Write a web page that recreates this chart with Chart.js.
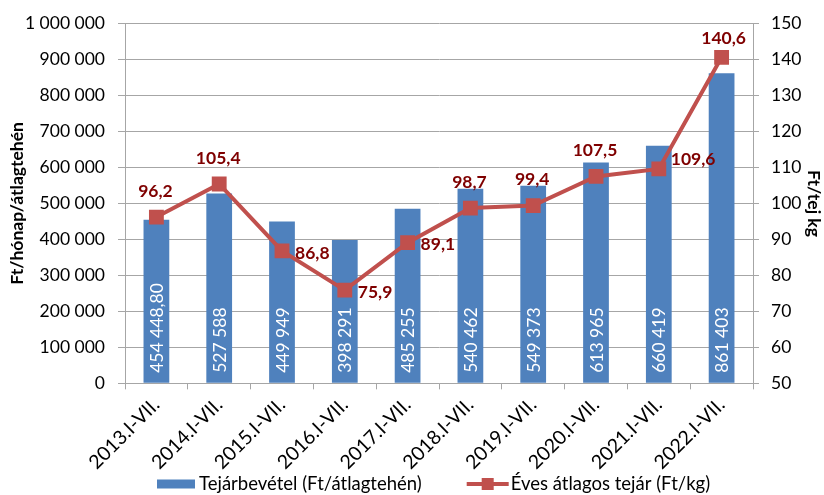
<!DOCTYPE html>
<html>
<head>
<meta charset="utf-8">
<script src="https://cdn.jsdelivr.net/npm/chart.js@4/dist/chart.umd.min.js"></script>
<style>
  html, body { margin: 0; padding: 0; background: #fff; }
  #wrap { width: 824px; height: 495px; }
</style>
</head>
<body>
<div id="wrap"><canvas id="c" width="824" height="495"></canvas></div>
<script>
const categories = ['2013.I-VII.', '2014.I-VII.', '2015.I-VII.', '2016.I-VII.', '2017.I-VII.',
                    '2018.I-VII.', '2019.I-VII.', '2020.I-VII.', '2021.I-VII.', '2022.I-VII.'];
const revenue = [454448.80, 527588, 449949, 398291, 485255, 540462, 549373, 613965, 660419, 861403];
const milkPrice = [96.2, 105.4, 86.8, 75.9, 89.1, 98.7, 99.4, 107.5, 109.6, 140.6];
const seriesNames = ['Tejárbevétel (Ft/átlagtehén)', 'Éves átlagos tejár (Ft/kg)'];
const axisTitles = ['Ft/hónap/átlagtehén', 'Ft/tej kg'];

const FONT = 'Lato';
const FS = 17.5;
const FS_X = 19.5;
const FS_LEG = 18.5;
const BLUE = '#4F81BD';
const RED = '#C0504D';
const DARKRED = '#7F0000';
const GRID = '#A6A6A6';

function groupSpaces(intStr) {
  return intStr.replace(/\B(?=(\d{3})+(?!\d))/g, ' ');
}
function fmtRevenue(v) {
  if (Number.isInteger(v)) return groupSpaces(String(v));
  const [a, b] = v.toFixed(2).split('.');
  return groupSpaces(a) + ',' + b;
}
function fmtPrice(v) { return v.toFixed(1).replace('.', ','); }

const labelPos = ['top', 'top', 'right', 'right', 'right', 'top', 'top', 'top', 'rightTop', 'topNear'];

const valueLabels = {
  id: 'valueLabels',
  afterDatasetsDraw(chart) {
    const ctx = chart.ctx;
    ctx.save();
    const barMeta = chart.getDatasetMeta(0);
    ctx.font = FS + 'px ' + FONT;
    ctx.fillStyle = '#FFFFFF';
    barMeta.data.forEach((el, i) => {
      ctx.save();
      ctx.translate(el.x, el.base - 10);
      ctx.rotate(-Math.PI / 2);
      ctx.textAlign = 'left';
      ctx.textBaseline = 'middle';
      ctx.fillText(fmtRevenue(revenue[i]), 0, 1);
      ctx.restore();
    });
    const lineMeta = chart.getDatasetMeta(1);
    ctx.font = 'bold ' + FS + 'px ' + FONT;
    ctx.fillStyle = DARKRED;
    lineMeta.data.forEach((el, i) => {
      const t = fmtPrice(milkPrice[i]);
      const p = labelPos[i];
      ctx.textBaseline = 'middle';
      if (p === 'top') { ctx.textAlign = 'center'; ctx.fillText(t, el.x - 1, el.y - 26); }
      else if (p === 'topNear') { ctx.textAlign = 'center'; ctx.fillText(t, el.x + 2, el.y - 19); }
      else if (p === 'right') { ctx.textAlign = 'left'; ctx.fillText(t, el.x + 13, el.y + 2); }
      else if (p === 'rightTop') { ctx.textAlign = 'left'; ctx.fillText(t, el.x + 12, el.y - 10); }
    });
    ctx.restore();
  }
};

const customLegend = {
  id: 'customLegend',
  afterDraw(chart) {
    const ctx = chart.ctx;
    ctx.save();
    ctx.font = FS_LEG + 'px ' + FONT;
    ctx.textBaseline = 'middle';
    ctx.textAlign = 'left';
    const y = 484;
    const w1 = ctx.measureText(seriesNames[0]).width;
    let x = chart.chartArea.left + 32;
    ctx.fillStyle = BLUE;
    ctx.fillRect(x, y - 4.5, 38, 9);
    x += 42;
    ctx.fillStyle = '#000';
    ctx.fillText(seriesNames[0], x, y);
    x += w1 + 45;
    ctx.strokeStyle = RED; ctx.lineWidth = 4;
    ctx.beginPath(); ctx.moveTo(x, y); ctx.lineTo(x + 42, y); ctx.stroke();
    ctx.fillStyle = RED; ctx.fillRect(x + 15, y - 6, 12, 12);
    x += 44;
    ctx.fillStyle = '#000';
    ctx.fillText(seriesNames[1], x, y);
    ctx.restore();
  }
};

new Chart(document.getElementById('c'), {
  data: {
    labels: categories,
    datasets: [
      {
        type: 'bar', label: seriesNames[0], data: revenue, yAxisID: 'y',
        backgroundColor: BLUE, borderWidth: 0,
        barPercentage: 0.41, categoryPercentage: 1.0, order: 2
      },
      {
        type: 'line', label: seriesNames[1], data: milkPrice, yAxisID: 'y1',
        borderColor: RED, backgroundColor: RED, borderWidth: 4,
        pointStyle: 'rect', pointRadius: 10.5, pointHoverRadius: 10.5,
        pointBackgroundColor: RED, pointBorderColor: RED, pointBorderWidth: 0,
        tension: 0, order: 1
      }
    ]
  },
  options: {
    responsive: false,
    animation: false,
    devicePixelRatio: 1,
    layout: { padding: { top: 9, left: 0, right: 0, bottom: 17 } },
    plugins: {
      tooltip: { enabled: false },
      legend: { display: false }
    },
    scales: {
      x: {
        offset: true,
        grid: { display: true, offset: true, drawOnChartArea: false, drawTicks: true, tickLength: 6, color: GRID },
        border: { display: true, color: GRID, width: 1 },
        ticks: { color: '#000', font: { family: FONT, size: FS_X }, maxRotation: 45, minRotation: 45, padding: 4 }
      },
      y: {
        position: 'left', min: 0, max: 1000000,
        afterFit: (s) => { s.width = 125; },
        ticks: { stepSize: 100000, color: '#000', font: { family: FONT, size: FS }, padding: 13,
                 callback: (v) => groupSpaces(String(v)) },
        grid: { color: GRID, tickLength: 7, lineWidth: 1 },
        border: { display: true, color: GRID },
        title: { display: true, text: axisTitles[0], color: '#000', font: { family: FONT, size: FS, weight: 'bold' }, padding: { top: 7, bottom: 0 } }
      },
      y1: {
        position: 'right', min: 50, max: 150,
        afterFit: (s) => { s.width = 71; },
        ticks: { stepSize: 10, color: '#000', font: { family: FONT, size: FS }, padding: 12 },
        grid: { drawOnChartArea: false, color: GRID, tickLength: 6 },
        border: { display: true, color: GRID },
        title: { display: true, text: axisTitles[1], color: '#000', font: { family: FONT, size: FS, weight: 'bold' }, padding: { top: 0, bottom: 0 } }
      }
    }
  },
  plugins: [valueLabels, customLegend]
});
</script>
</body>
</html>
